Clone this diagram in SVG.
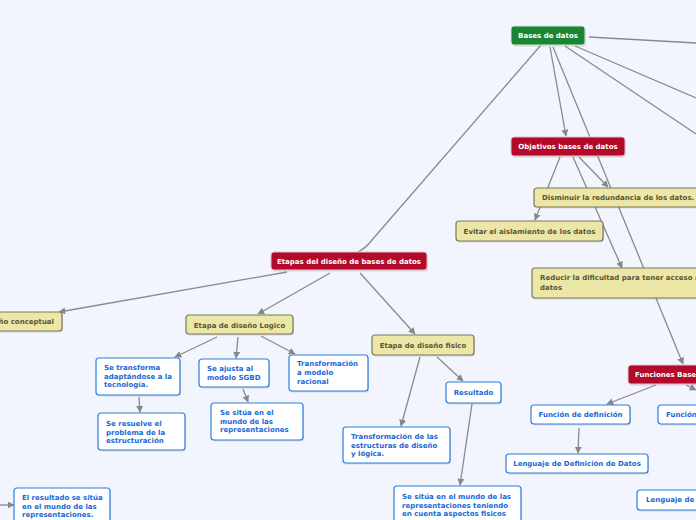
<svg xmlns="http://www.w3.org/2000/svg" width="696" height="520" viewBox="0 0 696 520">
<defs>
<marker id="ah" viewBox="0 0 10 10" refX="9" refY="5" markerWidth="7" markerHeight="7" orient="auto" markerUnits="userSpaceOnUse">
<path d="M0,0 L10,5 L0,10 z" fill="#888"/>
</marker>
<style>
text{font-family:"DejaVu Sans",Verdana,sans-serif;font-weight:bold;font-size:7px}
.red rect.b{fill:#b30a2b;stroke:#e8c0c8;stroke-width:1}
.red text{fill:#fff}
.grn rect.b{fill:#1c8534;stroke:#d0e8d4;stroke-width:1}
.grn text{fill:#fff}
.yel rect.b{fill:#ece7a6;stroke:#7d7856;stroke-width:1.2}
.yel text{fill:#5a5535}
.blu rect.b{fill:#fff;stroke:#2a7fe0;stroke-width:1.2}
.blu text{fill:#1a68d4}
rect.s{fill:#000;opacity:0.12}
.c line,.c path{stroke:#8a8a8a;stroke-width:1.3;fill:none}
.c .a{marker-end:url(#ah)}
</style>
</defs>
<rect width="696" height="520" fill="#f2f5fe"/>
<g class="c" id="connectors">
<path d="M541,45 L372,240 Q366,248 358,252"/>
<line x1="589" y1="37" x2="696" y2="43"/>
<line x1="575" y1="46" x2="696" y2="98"/>
<line x1="565" y1="46" x2="696" y2="134"/>
<line class="a" x1="550" y1="47" x2="566" y2="136"/>
<line class="a" x1="553" y1="47" x2="683" y2="364"/>
<line class="a" x1="560" y1="157" x2="535" y2="220"/>
<line class="a" x1="579" y1="157" x2="608" y2="187"/>
<line class="a" x1="573" y1="157" x2="622" y2="268"/>
<line class="a" x1="656" y1="385" x2="607" y2="404"/>
<line class="a" x1="686" y1="385" x2="696" y2="390"/>
<line class="a" x1="579" y1="428" x2="578" y2="453"/>
<line class="a" x1="287" y1="272" x2="59" y2="312"/>
<line class="a" x1="330" y1="273" x2="258" y2="314"/>
<line class="a" x1="360" y1="273" x2="415" y2="334"/>
<line class="a" x1="217" y1="337" x2="175" y2="357"/>
<line class="a" x1="238" y1="337" x2="236" y2="358"/>
<line class="a" x1="261" y1="336" x2="295" y2="354"/>
<line class="a" x1="139" y1="397" x2="140" y2="412"/>
<line class="a" x1="243" y1="389" x2="248" y2="402"/>
<line class="a" x1="420" y1="357" x2="401" y2="426"/>
<line class="a" x1="437" y1="357" x2="463" y2="381"/>
<line class="a" x1="472" y1="404" x2="460" y2="485"/>
<line class="a" x1="0" y1="505" x2="14" y2="505"/>
</g>
<g id="n-bases" class="grn"><rect class="s" x="512" y="27.5" width="74" height="19" rx="3"/><rect class="b" x="511" y="26" width="74" height="19" rx="3"/><text x="548" y="38" text-anchor="middle">Bases de datos</text></g>
<g id="n-objetivos" class="red"><rect class="s" x="512" y="138.5" width="114" height="19" rx="3"/><rect class="b" x="511" y="137" width="114" height="19" rx="3"/><text x="568" y="149" text-anchor="middle">Objetivos bases de datos</text></g>
<g id="n-disminuir" class="yel"><rect class="s" x="535" y="189.5" width="172" height="19" rx="3"/><rect class="b" x="534" y="188" width="172" height="19" rx="3"/><text x="542" y="200">Disminuir la redundancia de los datos.</text></g>
<g id="n-evitar" class="yel"><rect class="s" x="457" y="222.5" width="147" height="20" rx="3"/><rect class="b" x="456" y="221" width="147" height="20" rx="3"/><text x="529.5" y="234" text-anchor="middle">Evitar el aislamiento de los datos</text></g>
<g id="n-reducir" class="yel"><rect class="s" x="533" y="269.5" width="175" height="30" rx="3"/><rect class="b" x="532" y="268" width="175" height="30" rx="3"/><text x="540" y="280">Reducir la dificultad para tener acceso a</text><text x="540" y="290">datos</text></g>
<g id="n-funciones" class="red"><rect class="s" x="629" y="366.5" width="80" height="19" rx="3"/><rect class="b" x="628" y="365" width="80" height="19" rx="3"/><text x="635" y="377">Funciones Base</text></g>
<g id="n-fdef" class="blu"><rect class="s" x="532" y="406.5" width="99" height="19" rx="3"/><rect class="b" x="531" y="405" width="99" height="19" rx="3"/><text x="580.5" y="417" text-anchor="middle">Función de definición</text></g>
<g id="n-f2" class="blu"><rect class="s" x="659" y="406.5" width="50" height="19" rx="3"/><rect class="b" x="658" y="405" width="50" height="19" rx="3"/><text x="666" y="417">Función</text></g>
<g id="n-ldd" class="blu"><rect class="s" x="507" y="455.5" width="142" height="19" rx="3"/><rect class="b" x="506" y="454" width="142" height="19" rx="3"/><text x="577" y="466" text-anchor="middle">Lenguaje de Definición de Datos</text></g>
<g id="n-l2" class="blu"><rect class="s" x="638" y="491.5" width="70" height="20" rx="3"/><rect class="b" x="637" y="490" width="70" height="20" rx="3"/><text x="646" y="502">Lenguaje de</text></g>
<g id="n-etapas" class="red"><rect class="s" x="272" y="253.5" width="156" height="18" rx="3"/><rect class="b" x="271" y="252" width="156" height="18" rx="3"/><text x="349" y="264" text-anchor="middle">Etapas del diseño de bases de datos</text></g>
<g id="n-conceptual" class="yel"><rect class="s" x="-59" y="313.5" width="122" height="19" rx="3"/><rect class="b" x="-60" y="312" width="122" height="19" rx="3"/><text x="54" y="324" text-anchor="end">Etapa de diseño conceptual</text></g>
<g id="n-logico" class="yel"><rect class="s" x="187" y="316.5" width="107" height="19" rx="3"/><rect class="b" x="186" y="315" width="107" height="19" rx="3"/><text x="239.5" y="328" text-anchor="middle">Etapa de diseño Logico</text></g>
<g id="n-fisico" class="yel"><rect class="s" x="373" y="336.5" width="102" height="20" rx="3"/><rect class="b" x="372" y="335" width="102" height="20" rx="3"/><text x="423" y="348" text-anchor="middle">Etapa de diseño fisico</text></g>
<g id="n-setransforma" class="blu"><rect class="s" x="97" y="359.5" width="84" height="37" rx="3"/><rect class="b" x="96" y="358" width="84" height="37" rx="3"/><text x="104" y="370">Se transforma</text><text x="104" y="378.5">adaptándose a la</text><text x="104" y="387">tecnología.</text></g>
<g id="n-seajusta" class="blu"><rect class="s" x="200" y="360.5" width="70" height="28" rx="3"/><rect class="b" x="199" y="359" width="70" height="28" rx="3"/><text x="207" y="371">Se ajusta al</text><text x="207" y="380">modelo SGBD</text></g>
<g id="n-transfmodelo" class="blu"><rect class="s" x="290" y="356.5" width="79" height="36" rx="3"/><rect class="b" x="289" y="355" width="79" height="36" rx="3"/><text x="297" y="366">Transformación</text><text x="297" y="375">a modelo</text><text x="297" y="384">racional</text></g>
<g id="n-seresuelve" class="blu"><rect class="s" x="99" y="414.5" width="87" height="37" rx="3"/><rect class="b" x="98" y="413" width="87" height="37" rx="3"/><text x="106" y="426">Se resuelve el</text><text x="106" y="434.5">problema de la</text><text x="106" y="443">estructuración</text></g>
<g id="n-sesitua1" class="blu"><rect class="s" x="212" y="404.5" width="92" height="37" rx="3"/><rect class="b" x="211" y="403" width="92" height="37" rx="3"/><text x="220" y="415">Se sitúa en el</text><text x="220" y="423.5">mundo de las</text><text x="220" y="432">representaciones</text></g>
<g id="n-transfestr" class="blu"><rect class="s" x="344" y="428.5" width="107" height="36" rx="3"/><rect class="b" x="343" y="427" width="107" height="36" rx="3"/><text x="351" y="439">Transformación de las</text><text x="351" y="447.5">estructuras de diseño</text><text x="351" y="456">y lógica.</text></g>
<g id="n-resultado" class="blu"><rect class="s" x="447" y="383.5" width="55" height="21" rx="3"/><rect class="b" x="446" y="382" width="55" height="21" rx="3"/><text x="473.5" y="395" text-anchor="middle">Resultado</text></g>
<g id="n-sesitua2" class="blu"><rect class="s" x="395" y="487.5" width="127" height="40" rx="3"/><rect class="b" x="394" y="486" width="127" height="40" rx="3"/><text x="402" y="499">Se sitúa en el mundo de las</text><text x="402" y="507.5">representaciones teniendo</text><text x="402" y="516">en cuenta aspectos fisicos</text></g>
<g id="n-elresultado" class="blu"><rect class="s" x="15" y="489.5" width="96" height="40" rx="3"/><rect class="b" x="14" y="488" width="96" height="40" rx="3"/><text x="22" y="500">El resultado se sitúa</text><text x="22" y="508.5">en el mundo de las</text><text x="22" y="517">representaciones.</text></g>
</svg>
